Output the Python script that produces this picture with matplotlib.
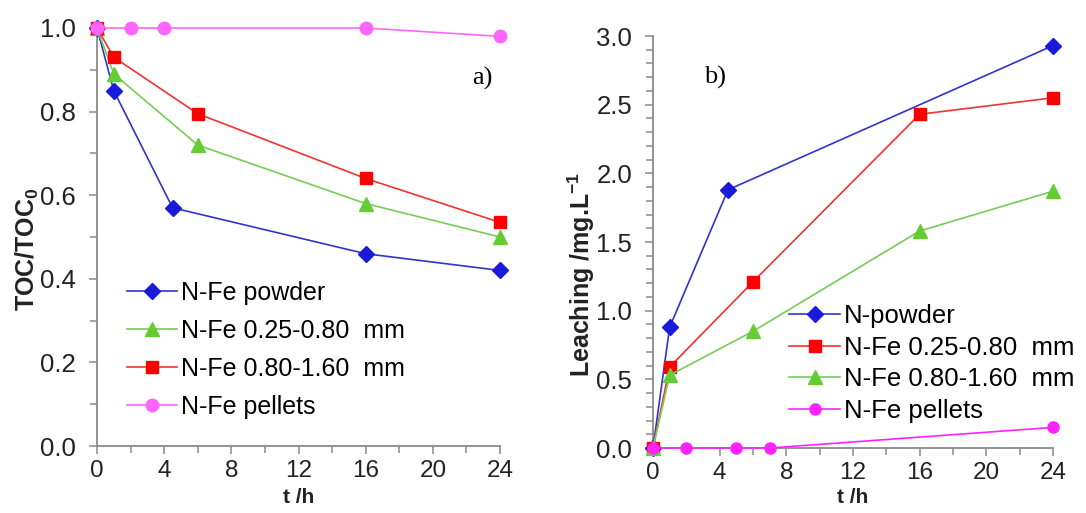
import matplotlib
matplotlib.use("Agg")
import matplotlib.pyplot as plt
from matplotlib.ticker import MultipleLocator

plt.rcParams['font.family'] = ['Liberation Sans', 'DejaVu Sans']
plt.rcParams['mathtext.fontset'] = 'custom'
plt.rcParams['mathtext.bf'] = 'Liberation Sans:bold'
plt.rcParams['mathtext.rm'] = 'Liberation Sans'

# (a) TOC removal
a_powder_t = [0, 1, 4.5, 16, 24]
a_powder_y = [1.0, 0.85, 0.57, 0.46, 0.42]
a_small_t = [0, 1, 6, 16, 24]
a_small_y = [1.0, 0.89, 0.72, 0.58, 0.50]
a_large_t = [0, 1, 6, 16, 24]
a_large_y = [1.0, 0.93, 0.795, 0.64, 0.535]
a_pellet_t = [0, 2, 4, 16, 24]
a_pellet_y = [1.0, 1.0, 1.0, 1.0, 0.98]

# (b) iron leaching
b_powder_t = [0, 1, 4.5, 24]
b_powder_y = [0.0, 0.88, 1.88, 2.93]
b_small_t = [0, 1, 6, 16, 24]
b_small_y = [0.0, 0.59, 1.21, 2.43, 2.55]
b_large_t = [0, 1, 6, 16, 24]
b_large_y = [0.0, 0.53, 0.85, 1.58, 1.87]
b_pellet_t = [0, 2, 5, 7, 24]
b_pellet_y = [0.0, 0.0, 0.0, 0.0, 0.15]

blue = '#3333cc'
blue_m = '#1a1ad9'
green = '#77cc55'
green_m = '#66cc33'
red = '#ee3333'
red_m = '#ff0000'
pink = '#ff66ff'
magenta = '#ff22ff'
txt = '#222222'

fig = plt.figure(figsize=(10.86, 5.13), dpi=100)
ax1 = fig.add_axes([97/1086, 1-446/513, 403/1086, 418/513])
ax2 = fig.add_axes([653/1086, 1-448/513, 400/1086, 412/513])


def style(ax):
    for s in ['top', 'right']:
        ax.spines[s].set_visible(False)
    for s in ['left', 'bottom']:
        ax.spines[s].set_color('#8a8a8a')
        ax.spines[s].set_linewidth(1.3)
    ax.tick_params(which='both', direction='out', color='#8a8a8a',
                   labelcolor=txt, labelsize=18.5, width=1.1)
    ax.tick_params(which='major', length=6)
    ax.tick_params(which='minor', length=5)
    ax.tick_params(axis='y', pad=9)
    ax.tick_params(axis='x', pad=4, labelsize=17.5)
    ax.set_xlim(0, 24)
    ax.xaxis.set_major_locator(MultipleLocator(4))
    ax.xaxis.set_minor_locator(MultipleLocator(2))


def series(ax, t, y, lc, mc, marker, ms, label):
    ax.plot(t, y, color=lc, lw=1.2, marker=marker, ms=ms,
            mfc=mc, mec=mc, label=label, clip_on=False, zorder=3)


style(ax1)
series(ax1, a_powder_t, a_powder_y, blue, blue_m, 'D', 8, 'N-Fe powder')
series(ax1, a_small_t, a_small_y, green, green_m, '^', 10, 'N-Fe 0.25-0.80  mm')
series(ax1, a_large_t, a_large_y, red, red_m, 's', 8.5, 'N-Fe 0.80-1.60  mm')
series(ax1, a_pellet_t, a_pellet_y, pink, pink, 'o', 9, 'N-Fe pellets')
ax1.set_ylim(0, 1.0)
ax1.yaxis.set_major_locator(MultipleLocator(0.2))
ax1.yaxis.set_minor_locator(MultipleLocator(0.1))
ax1.yaxis.set_major_formatter(lambda v, p: f'{v:.1f}')
ax1.set_ylabel('TOC/TOC$_\\mathbf{0}$', fontsize=18, fontweight='bold',
               color=txt)
ax1.yaxis.set_label_coords(-0.14, 0.47)
ax1.set_xlabel('t /h', fontsize=15, fontweight='bold', color=txt)
ax1.xaxis.set_label_coords(0.5, -0.1)
ax1.text(0.955, 0.88, 'a)', transform=ax1.transAxes, fontsize=19,
         family='Liberation Serif', ha='center', va='center')
ax1.legend(loc='upper left', bbox_to_anchor=(0.075, 0.395), frameon=False,
           fontsize=18, handlelength=2.0, handletextpad=0.15,
           labelspacing=0.56, borderpad=0, borderaxespad=0)

style(ax2)
series(ax2, b_powder_t, b_powder_y, blue, blue_m, 'D', 8, 'N-powder')
series(ax2, b_small_t, b_small_y, red, red_m, 's', 8.5, 'N-Fe 0.25-0.80  mm')
series(ax2, b_large_t, b_large_y, green, green_m, '^', 10, 'N-Fe 0.80-1.60  mm')
series(ax2, b_pellet_t, b_pellet_y, magenta, magenta, 'o', 8, 'N-Fe pellets')
ax2.set_ylim(0, 3.0)
ax2.yaxis.set_major_locator(MultipleLocator(0.5))
ax2.yaxis.set_minor_locator(MultipleLocator(0.1))
ax2.yaxis.set_major_formatter(lambda v, p: f'{v:.1f}')
ax2.set_ylabel('Leaching /mg.L$^{\\mathbf{-1}}$', fontsize=18,
               fontweight='bold', color=txt)
ax2.yaxis.set_label_coords(-0.14, 0.42)
ax2.set_xlabel('t /h', fontsize=15, fontweight='bold', color=txt)
ax2.xaxis.set_label_coords(0.5, -0.097)
ax2.text(0.155, 0.9, 'b)', transform=ax2.transAxes, fontsize=19,
         family='Liberation Serif', ha='center', va='center')
ax2.legend(loc='upper left', bbox_to_anchor=(0.34, 0.35), frameon=False,
           fontsize=18.5, handlelength=2.0, handletextpad=0.15,
           labelspacing=0.3, borderpad=0, borderaxespad=0)

fig.savefig('out.png', dpi=100)
